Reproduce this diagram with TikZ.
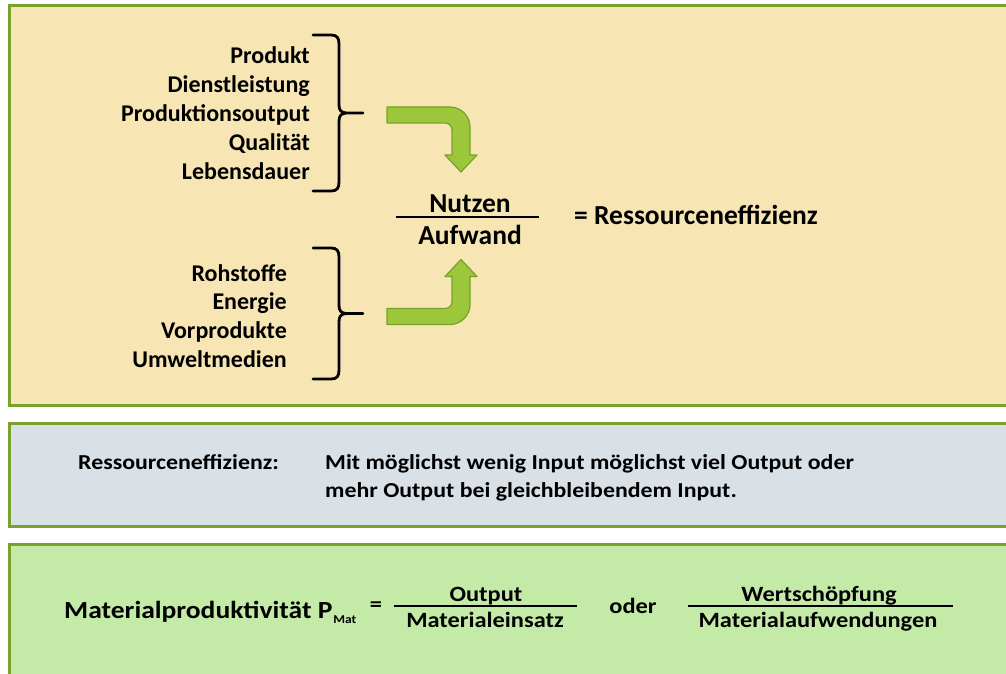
\documentclass[tikz,border=0pt]{standalone}
\usepackage{fontspec}
\setmainfont{Carlito}
\newfontfamily\widefont{Carlito}[FakeStretch=1.12]
\usepackage{xcolor}
\usetikzlibrary{positioning}

\definecolor{framegreen}{HTML}{78A22C}
\definecolor{paneltop}{HTML}{F7E6B3}
\definecolor{panelmid}{HTML}{D9E0E6}
\definecolor{panelbot}{HTML}{C3EAA6}
\definecolor{arrowfill}{HTML}{9DC73B}
\definecolor{arrowline}{HTML}{76A12C}

\tikzset{
    pics/bentarrow/.style={code={
        \draw[arrowline, fill=arrowfill, line width=1.2pt, line join=round]
            (0,-8) -- (63,-8) .. controls (74,-8) and (83,1) .. (83,12)
            -- (83,40) -- (90,40) -- (74,57) -- (58,40) -- (65,40)
            -- (65,15) .. controls (65,11) and (62,8) .. (58,8) -- (0,8) -- cycle;
    }},
    pics/curlybrak/.style={code={
        \draw[line width=2.8pt, line cap=round]
            (-26,-#1) -- (-8,-#1) .. controls (-2,-#1) and (0,{-#1+3}) .. (0,{-#1+9})
            -- (0,-8) .. controls (0,-3) and (2,0) .. (8,0) -- (24,0)
            (8,0) .. controls (2,0) and (0,3) .. (0,8)
            -- (0,{#1-9}) .. controls (0,{#1-3}) and (-2,#1) .. (-8,#1) -- (-26,#1);
    }}
}

\begin{document}
\begin{tikzpicture}[
        x=1pt, y=-1pt,
        panel/.style={draw=framegreen, line width=3pt},
        item/.style={font=\bfseries\fontsize{24}{28}\selectfont, inner sep=0pt, anchor=base east},
        big/.style={font=\bfseries\fontsize{27.5}{32}\selectfont, inner sep=0pt},
        plain/.style={font=\widefont\bfseries\fontsize{21.3}{25}\selectfont, inner sep=0pt, anchor=base west},
        frac/.style={font=\widefont\bfseries\fontsize{21.8}{26}\selectfont, inner sep=0pt, anchor=base},
        fracline/.style={line width=2pt}
    ]
    \useasboundingbox (0,0) rectangle (1006,674);

    % panels
    \begin{scope}
        \clip (0,0) rectangle (1006,674);
        \draw[panel, fill=paneltop] (9.5,5.5) rectangle (1030,405.5);
        \draw[panel, fill=panelmid] (9.5,423.5) rectangle (1030,526.5);
        \draw[panel, fill=panelbot] (9.5,544.5) rectangle (1030,700);
    \end{scope}

    % Nutzen
    \node[item] (produkt) at (310,64) {Produkt};
    \node[item, below=28.8pt of produkt.base east, anchor=base east] (dienst) {Dienstleistung};
    \node[item, below=28.8pt of dienst.base east, anchor=base east] (output) {Produktionsoutput};
    \node[item, below=28.8pt of output.base east, anchor=base east] (qualitaet) {Qualität};
    \node[item, below=28.8pt of qualitaet.base east, anchor=base east] (dauer) {Lebensdauer};

    % Aufwand
    \node[item] (rohstoffe) at (287,281) {Rohstoffe};
    \node[item, below=28.7pt of rohstoffe.base east, anchor=base east] (energie) {Energie};
    \node[item, below=28.7pt of energie.base east, anchor=base east] (vorprod) {Vorprodukte};
    \node[item, below=28.7pt of vorprod.base east, anchor=base east] (umwelt) {Umweltmedien};

    \pic at (339,113) {curlybrak=78};
    \pic at (339,313.5) {curlybrak=65.5};

    \pic at (387,115) {bentarrow};
    \pic[yscale=-1] at (387,316.5) {bentarrow};

    % Bruch
    \node[big, anchor=base] (nutzen) at (470,212) {Nutzen};
    \node[big, anchor=base] (aufwand) at (470,244) {Aufwand};
    \draw[fracline] (396,217) -- (539,217);
    \node[big, anchor=base west] (effizienz) at (574,224) {= Ressourceneffizienz};

    % Definition
    \node[plain] (deflabel) at (78,469) {Ressourceneffizienz:};
    \node[plain] (defline1) at (325,469) {Mit möglichst wenig Input möglichst viel Output oder};
    \node[plain, below=28pt of defline1.base west, anchor=base west] (defline2) {mehr Output bei gleichbleibendem Input.};

    % Materialproduktivitaet
    \node[font=\widefont\bfseries\fontsize{24.6}{30}\selectfont, inner sep=0pt, anchor=base west] (pmat) at (64,618)
        {Materialproduktivität P\kern1pt\raisebox{-5pt}{\fontsize{12}{14}\selectfont Mat}};
    \node[frac, anchor=base] (gleich) at (376,611) {=};
    \node[frac] (out) at (486,601) {Output};
    \node[frac] (einsatz) at (485,627) {Materialeinsatz};
    \draw[fracline] (394,606) -- (577,606);
    \node[frac] (oder) at (633,613) {oder};
    \node[frac] (wert) at (819,601) {Wertschöpfung};
    \node[frac] (aufw) at (818,627) {Materialaufwendungen};
    \draw[fracline] (688,606) -- (953,606);
\end{tikzpicture}
\end{document}
